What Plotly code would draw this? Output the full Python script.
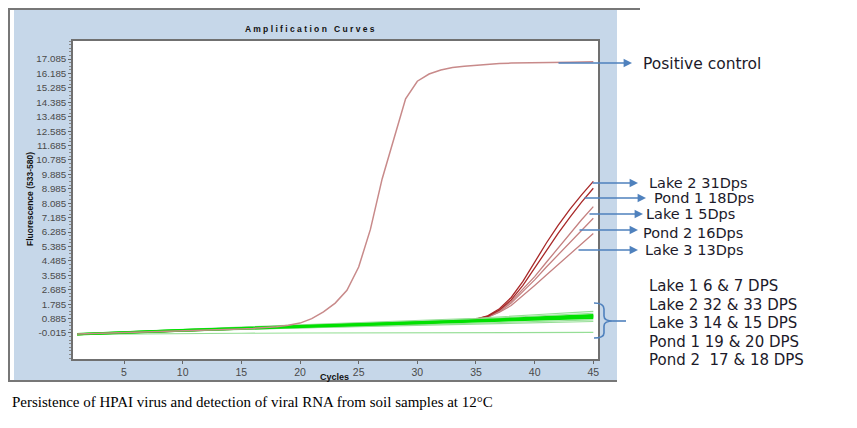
import plotly.graph_objects as go

# --- datos ---
ciclos = list(range(1, 46))
control_positivo = [-0.08, -0.06, -0.03, 0.0, 0.02, 0.05, 0.07, 0.09, 0.11, 0.13,
                    0.15, 0.17, 0.19, 0.21, 0.24, 0.27, 0.31, 0.37, 0.46, 0.6,
                    0.88, 1.3, 1.85, 2.65, 4.1, 6.45, 9.6, 12.1, 14.6, 15.7,
                    16.15, 16.4, 16.55, 16.63, 16.7, 16.76, 16.8, 16.83, 16.85, 16.86,
                    16.87, 16.88, 16.89, 16.9, 16.91]

ciclos_rojo = [1, 5, 10, 15, 20, 25, 30, 33, 35, 36, 37, 38, 39, 40, 41, 42, 43, 44, 45]
lake2_31 = [-0.1, 0.0, 0.12, 0.24, 0.36, 0.46, 0.58, 0.68, 0.85, 1.05, 1.5, 2.2, 3.2, 4.4, 5.6, 6.7, 7.7, 8.6, 9.45]
pond1_18 = [-0.12, -0.02, 0.1, 0.22, 0.34, 0.44, 0.56, 0.68, 0.84, 1.02, 1.42, 2.05, 2.95, 4.05, 5.15, 6.2, 7.2, 8.15, 9.02]
lake1_5 = [-0.1, 0.02, 0.14, 0.26, 0.37, 0.47, 0.58, 0.7, 0.86, 1.03, 1.38, 1.95, 2.7, 3.5, 4.4, 5.3, 6.2, 7.05, 7.87]
pond2_16 = [-0.11, 0.0, 0.12, 0.24, 0.35, 0.45, 0.56, 0.68, 0.83, 0.98, 1.32, 1.85, 2.55, 3.3, 4.1, 4.85, 5.65, 6.4, 7.15]
lake3_13 = [-0.1, 0.01, 0.13, 0.25, 0.36, 0.46, 0.57, 0.68, 0.82, 0.97, 1.28, 1.7, 2.3, 2.95, 3.6, 4.25, 4.9, 5.55, 6.2]

ciclos_verde = [1, 5, 10, 15, 20, 25, 30, 35, 40, 45]
verdes_fuertes = [
    [-0.08, 0.05, 0.18, 0.3, 0.42, 0.52, 0.62, 0.78, 0.95, 1.12],
    [-0.1, 0.02, 0.14, 0.26, 0.38, 0.48, 0.58, 0.72, 0.86, 1.0],
    [-0.12, 0.0, 0.12, 0.24, 0.35, 0.45, 0.55, 0.68, 0.8, 0.92],
    [-0.09, 0.04, 0.17, 0.29, 0.4, 0.5, 0.6, 0.75, 0.91, 1.06],
]
verdes_claros = [
    [-0.05, 0.08, 0.22, 0.36, 0.5, 0.62, 0.74, 0.9, 1.12, 1.33],
    [-0.06, 0.06, 0.2, 0.33, 0.46, 0.58, 0.7, 0.85, 1.04, 1.22],
    [-0.1, 0.0, 0.1, 0.2, 0.3, 0.4, 0.5, 0.6, 0.7, 0.8],
    [-0.08, 0.02, 0.12, 0.22, 0.3, 0.38, 0.46, 0.54, 0.62, 0.7],
    [-0.1, -0.07, -0.05, -0.03, -0.02, -0.01, 0.0, 0.0, 0.01, 0.02],
    [-0.07, 0.04, 0.16, 0.28, 0.4, 0.5, 0.6, 0.72, 0.85, 0.98],
]

y_ticks = [-0.015 + 0.9 * k for k in range(20)]
y_etiquetas = ["-0.015", "0.885", "1.785", "2.685", "3.585", "4.485", "5.385", "6.285",
               "7.185", "8.085", "8.985", "9.885", "10.785", "11.685", "12.585",
               "13.485", "14.385", "15.285", "16.185", "17.085"]
x_ticks = [5, 10, 15, 20, 25, 30, 35, 40, 45]

etiquetas_arriba = ["Lake 2 31Dps", "Pond 1 18Dps", "Lake 1 5Dps", "Pond 2 16Dps", "Lake 3 13Dps"]
etiquetas_abajo = ["Lake 1 6 &amp; 7 DPS", "Lake 2 32 &amp; 33 DPS", "Lake 3 14 &amp; 15 DPS",
                   "Pond 1 19 &amp; 20 DPS", "Pond 2  17 &amp; 18 DPS"]

# --- geometria (pixeles de la ventana); la pagina mete 8 px de margen ---
OFF = 8
W, H = 857 - OFF, 428 - OFF
L, R, T, B = 73, 598, 41, 359


def px(x):
    return (x - L) / (R - L)


def py(y):
    return (B - y) / (B - T)


AZUL = "rgb(79,129,189)"
TEXTO = "#1c1a2a"

fig = go.Figure()

rosa = "rgb(196,128,128)"
rojo = "rgb(168,40,40)"
for serie, color in [(lake3_13, rosa), (pond2_16, rosa), (lake1_5, rosa),
                     (pond1_18, rojo), (lake2_31, rojo)]:
    fig.add_trace(go.Scatter(x=ciclos_rojo, y=serie, mode="lines",
                             line=dict(color=color, width=1.3)))

for serie in verdes_claros:
    fig.add_trace(go.Scatter(x=ciclos_verde, y=serie, mode="lines",
                             line=dict(color="rgb(150,222,150)", width=1.1)))
for serie in verdes_fuertes:
    fig.add_trace(go.Scatter(x=ciclos_verde, y=serie, mode="lines",
                             line=dict(color="rgb(0,225,0)", width=1.8)))

fig.add_trace(go.Scatter(x=ciclos, y=control_positivo, mode="lines",
                         line=dict(color="rgb(200,138,138)", width=1.5)))

# fondo azul del panel, hueco blanco del grafico y marco
formas = [
    dict(type="rect", xref="paper", yref="paper", x0=px(14), x1=px(617), y0=py(380), y1=py(9),
         fillcolor="rgb(198,215,233)", line=dict(width=0), layer="below"),
    dict(type="rect", xref="paper", yref="paper", x0=0, x1=1, y0=0, y1=1,
         fillcolor="white", line=dict(width=0), layer="below"),
    dict(type="line", xref="paper", yref="paper", x0=px(8), x1=px(640), y0=py(9), y1=py(9),
         line=dict(color="#777", width=2)),
    dict(type="line", xref="paper", yref="paper", x0=px(9), x1=px(9), y0=py(8), y1=py(381),
         line=dict(color="#777", width=2)),
    dict(type="line", xref="paper", yref="paper", x0=px(8), x1=px(617), y0=py(381), y1=py(381),
         line=dict(color="#777", width=2)),
]
# llave
llave = "M {},{} Q {},{} {},{} L {},{} Q {},{} {},{} Q {},{} {},{} L {},{} Q {},{} {},{}".format(
    px(594), py(303), px(604), py(303), px(604), py(309),
    px(604), py(316), px(604), py(321), px(613), py(321),
    px(604), py(321), px(604), py(326),
    px(604), py(333), px(604), py(338), px(594), py(338))
formas.append(dict(type="path", xref="paper", yref="paper", path=llave,
                   line=dict(color=AZUL, width=1.6)))
formas.append(dict(type="line", xref="paper", yref="paper", x0=px(613), x1=px(626),
                   y0=py(321), y1=py(321), line=dict(color=AZUL, width=1.6)))

anotaciones = []
# flechas: (cola x, cabeza x, y) en pixeles
flechas = [(557, 632, 63), (591, 638, 183), (583, 646, 198), (588, 643, 214),
           (578, 638, 230), (577, 638, 250)]
for x0, x1, y in flechas:
    anotaciones.append(dict(xref="paper", yref="paper", x=px(x1), y=py(y),
                            axref="pixel", ayref="pixel", ax=x0 - x1, ay=0, text="",
                            showarrow=True, arrowhead=2, arrowsize=1.2, arrowwidth=1.4,
                            arrowcolor=AZUL))

fuente_lab = dict(family="DejaVu Sans", size=15, color=TEXTO)
anotaciones.append(dict(xref="paper", yref="paper", x=px(641), y=py(64), text="Positive control",
                        showarrow=False, xanchor="left", yanchor="middle",
                        font=dict(family="DejaVu Sans", size=15.5, color=TEXTO)))
pos_arriba = [(647, 183), (652, 198), (644, 214), (641, 233), (643, 250)]
for txt, (x, y) in zip(etiquetas_arriba, pos_arriba):
    anotaciones.append(dict(xref="paper", yref="paper", x=px(x), y=py(y), text=txt,
                            showarrow=False, xanchor="left", yanchor="middle",
                            font=dict(family="DejaVu Sans", size=14.5, color=TEXTO)))
pos_abajo = [286, 305, 323, 342, 360]
for txt, y in zip(etiquetas_abajo, pos_abajo):
    anotaciones.append(dict(xref="paper", yref="paper", x=px(647), y=py(y), text=txt,
                            showarrow=False, xanchor="left", yanchor="middle", font=fuente_lab))

anotaciones += [
    dict(xref="paper", yref="paper", x=px(310), y=py(29),
         text="<b>A m p l i f i c a t i o n   C u r v e s</b>", showarrow=False,
         xanchor="center", yanchor="middle",
         font=dict(family="Liberation Sans", size=8.5, color="#111")),
    dict(xref="paper", yref="paper", x=px(334), y=py(377), text="<b>Cycles</b>",
         showarrow=False, xanchor="center", yanchor="middle",
         font=dict(family="Liberation Sans", size=9, color="#111")),
    dict(xref="paper", yref="paper", x=px(30), y=py(199), text="<b>Fluorescence (533-580)</b>",
         showarrow=False, textangle=-90, xanchor="center", yanchor="middle",
         font=dict(family="Liberation Sans", size=8.5, color="#111")),
    dict(xref="paper", yref="paper", x=px(10), y=py(402),
         text="Persistence of HPAI virus and detection of viral RNA from soil samples at 12°C",
         showarrow=False, xanchor="left", yanchor="middle",
         font=dict(family="Liberation Serif", size=15, color="#000")),
]

fig.update_layout(
    width=W, height=H, autosize=False,
    margin=dict(l=L - OFF, r=W - (R - OFF), t=T - OFF, b=H - (B - OFF), pad=0),
    paper_bgcolor="white", plot_bgcolor="white",
    showlegend=False, shapes=formas, annotations=anotaciones,
)
fig.update_xaxes(range=[0.65, 45.4], tickvals=x_ticks, ticks="outside", ticklen=3,
                 tickcolor="#666", showgrid=False, zeroline=False, showline=True,
                 linecolor="#707070", linewidth=1.5, mirror=True,
                 tickfont=dict(family="Liberation Sans", size=10.5, color="#4a4a4a"))
fig.update_yaxes(range=[-1.64, 18.21], tickvals=y_ticks, ticktext=y_etiquetas,
                 ticks="outside", ticklen=3, tickcolor="#666", showgrid=False,
                 zeroline=False, showline=True, linecolor="#707070", linewidth=1.5,
                 mirror=True, tickfont=dict(family="Liberation Sans", size=9.8, color="#4a4a4a"),
                 minor=dict(ticks="outside", ticklen=2, tick0=-0.015, dtick=0.225,
                            tickcolor="#888", showgrid=False))

fig.write_html("out.html")
